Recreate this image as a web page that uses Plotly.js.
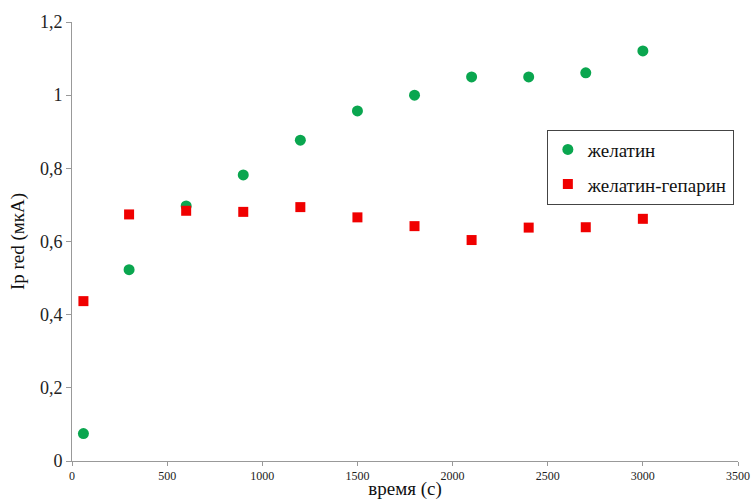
<!DOCTYPE html>
<html>
<head>
<meta charset="utf-8">
<script src="https://cdn.plot.ly/plotly-3.0.1.min.js"></script>
<style>html,body{margin:0;padding:0;background:#fff;}#chart{width:753px;height:500px;}</style>
</head>
<body>
<div id="chart"></div>
<script>
const timeSec = [60, 300, 600, 900, 1200, 1500, 1800, 2100, 2400, 2700, 3000];
const gelatin = [0.075, 0.523, 0.697, 0.782, 0.877, 0.957, 1.000, 1.050, 1.050, 1.061, 1.121];
const gelatinHeparin = [0.437, 0.674, 0.684, 0.681, 0.694, 0.666, 0.642, 0.604, 0.638, 0.639, 0.662];
const seriesNames = ['желатин', 'желатин-гепарин'];

const serif = '"Times New Roman", "Liberation Serif", Tinos, "DejaVu Serif", serif';

const traces = [
  {x: timeSec, y: gelatin, name: seriesNames[0], type: 'scatter', mode: 'markers', legendgroup: 'a',
   marker: {symbol: 'circle', size: 11, color: '#0aa64f'}},
  {x: timeSec, y: gelatinHeparin, name: seriesNames[1], type: 'scatter', mode: 'markers', legendgroup: 'b',
   marker: {symbol: 'square', size: 10, color: '#f00000'}}
];

const layout = {
  width: 753, height: 500,
  margin: {l: 72, r: 15, t: 22, b: 39},
  paper_bgcolor: '#fff', plot_bgcolor: '#fff',
  separators: ', ',
  font: {family: serif, color: '#222'},
  showlegend: true,
  legend: {x: 0.713, y: 0.755, xanchor: 'left', yanchor: 'top', bordercolor: '#444', borderwidth: 1,
           bgcolor: '#fff', font: {family: serif, size: 19, color: '#111'}, traceorder: 'grouped', tracegroupgap: 7},
  xaxis: {range: [0, 3500], dtick: 500, tick0: 0, showgrid: false, zeroline: false,
          showline: true, linecolor: '#999', linewidth: 1, ticks: 'outside', ticklen: 4, tickcolor: '#999',
          tickfont: {family: serif, size: 12, color: '#222'},
          title: {text: 'время (с)', font: {family: serif, size: 19, color: '#111'}, standoff: 2}},
  yaxis: {range: [0, 1.2], dtick: 0.2, tick0: 0, showgrid: false, zeroline: false,
          showline: true, linecolor: '#999', linewidth: 1, ticks: 'outside', ticklen: 5, tickcolor: '#999',
          tickfont: {family: serif, size: 18, color: '#222'},
          title: {text: 'Ip red (мкА)', font: {family: serif, size: 19, color: '#111'}, standoff: 10}}
};

Plotly.newPlot('chart', traces, layout, {displayModeBar: false, staticPlot: true});
</script>
</body>
</html>
